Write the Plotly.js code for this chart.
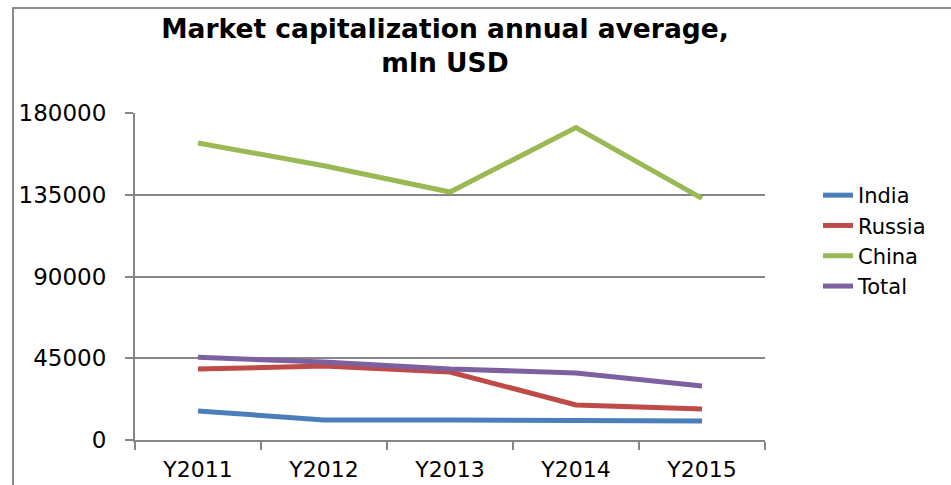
<!DOCTYPE html>
<html>
<head>
<meta charset="utf-8">
<script src="https://cdn.plot.ly/plotly-3.0.1.min.js"></script>
<style>
html,body{margin:0;padding:0;background:#fff;}
#wrap{position:relative;width:951px;height:485px;overflow:hidden;}
#chart{position:absolute;left:0;top:0;width:951px;height:485px;}
#frame{position:absolute;left:12px;top:7px;width:960px;height:500px;border-top:2px solid #8c8c8c;border-left:2px solid #8c8c8c;pointer-events:none;}
</style>
</head>
<body>
<div id="wrap">
<div id="chart"></div>
<div id="frame"></div>
</div>
<script>
const years = ["Y2011", "Y2012", "Y2013", "Y2014", "Y2015"];
const india = [16000, 11000, 11000, 11000, 10500];
const russia = [39100, 40700, 37400, 19300, 17100];
const china = [163500, 151000, 136500, 172000, 133000];
const total = [45500, 42900, 39100, 36900, 29700];
const yTicks = [0, 45000, 90000, 135000, 180000];

const series = [
  {name: "India", y: india, color: "#4A7EBB"},
  {name: "Russia", y: russia, color: "#BE4B48"},
  {name: "China", y: china, color: "#98B954"},
  {name: "Total", y: total, color: "#7D60A0"}
];

const font = "DejaVu Sans, sans-serif";
const traces = series.map(s => ({
  type: "scatter", mode: "lines", name: s.name, x: years, y: s.y,
  line: {color: s.color, width: 5}
}));

const layout = {
  width: 951, height: 485,
  margin: {l: 135, r: 186, t: 113, b: 45},
  paper_bgcolor: "#fff", plot_bgcolor: "#fff",
  font: {family: font, size: 22, color: "#000"},
  title: {
    text: "<b>Market capitalization annual average,<br>mln USD</b>",
    font: {family: font, size: 26.5, color: "#000"},
    x: 445/951, xref: "container", xanchor: "center",
    y: 1 - 38/485, yref: "container", yanchor: "top"
  },
  xaxis: {
    type: "category", tickson: "boundaries", range: [-0.5, 4.5],
    showline: true, linecolor: "#868686", linewidth: 2,
    ticks: "outside", ticklen: 8, tickwidth: 2, tickcolor: "#868686",
    ticklabelstandoff: 9,
    showgrid: false, zeroline: false,
    tickfont: {family: font, size: 22, color: "#000"}
  },
  yaxis: {
    range: [0, 180000], tickvals: yTicks, ticktext: yTicks.map(String),
    showline: true, linecolor: "#868686", linewidth: 2,
    ticks: "outside", ticklen: 8, tickwidth: 2, tickcolor: "#868686",
    ticklabelstandoff: 14,
    showgrid: true, gridcolor: "#868686", gridwidth: 2, zeroline: false,
    tickfont: {family: font, size: 23, color: "#000"}
  },
  legend: {
    x: (818-135)/630, xanchor: "left", y: (440-175)/327, yanchor: "top",
    font: {family: font, size: 21, color: "#000"},
    bgcolor: "rgba(0,0,0,0)", borderwidth: 0
  },
  showlegend: true
};

Plotly.newPlot("chart", traces, layout, {displayModeBar: false, staticPlot: true});
</script>
</body>
</html>
